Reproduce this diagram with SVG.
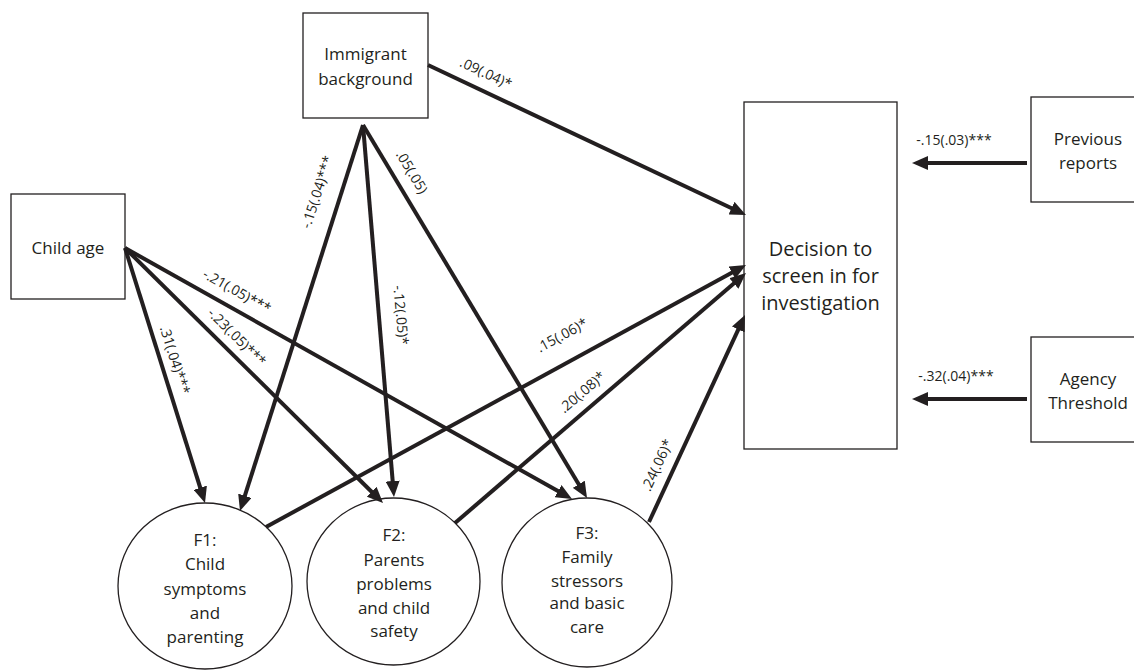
<svg xmlns="http://www.w3.org/2000/svg" width="1134" height="670" viewBox="0 0 1134 670">
<style>
  .box { fill: #ffffff; stroke: #231f20; stroke-width: 1.3; }
  .node-text { font-family: "Open Sans", "Liberation Sans", sans-serif; font-size: 17px; fill: #231f20; text-anchor: middle; }
  .big-text { font-family: "Open Sans", "Liberation Sans", sans-serif; font-size: 20px; fill: #231f20; text-anchor: middle; }
  .edge { stroke: #231f20; stroke-width: 4; fill: none; marker-end: url(#arrow); }
  .lbl { font-family: "Open Sans", "Liberation Sans", sans-serif; font-size: 14px; fill: #231f20; text-anchor: middle; }
</style>
<defs>
  <marker id="arrow" markerUnits="userSpaceOnUse" markerWidth="16" markerHeight="14" viewBox="0 0 16 14" refX="6" refY="7" orient="auto">
    <path d="M0,0 L16,7 L0,14 Z" fill="#231f20"/>
  </marker>
</defs>
<rect width="1134" height="670" fill="#ffffff"/>

<g id="immigrant">
  <rect class="box" x="303" y="13" width="125" height="105"/>
  <text class="node-text" x="365.5" y="60">Immigrant</text>
  <text class="node-text" x="365.5" y="85">background</text>
</g>
<g id="child-age">
  <rect class="box" x="11" y="194" width="114" height="105"/>
  <text class="node-text" x="68" y="254">Child age</text>
</g>
<g id="decision">
  <rect class="box" x="744" y="102" width="153" height="347"/>
  <text class="big-text" x="820.5" y="256">Decision to</text>
  <text class="big-text" x="820.5" y="283">screen in for</text>
  <text class="big-text" x="820.5" y="310">investigation</text>
</g>
<g id="previous-reports">
  <rect class="box" x="1031" y="97" width="115" height="105"/>
  <text class="node-text" x="1088" y="145">Previous</text>
  <text class="node-text" x="1088" y="169">reports</text>
</g>
<g id="agency-threshold">
  <rect class="box" x="1031" y="337" width="115" height="105"/>
  <text class="node-text" x="1088" y="385">Agency</text>
  <text class="node-text" x="1088" y="409">Threshold</text>
</g>
<g id="f1">
  <ellipse class="box" cx="205" cy="586" rx="87" ry="83"/>
  <text class="node-text" x="205" y="546">F1:</text>
  <text class="node-text" x="205" y="570">Child</text>
  <text class="node-text" x="205" y="595">symptoms</text>
  <text class="node-text" x="205" y="619">and</text>
  <text class="node-text" x="205" y="643">parenting</text>
</g>
<g id="f2">
  <ellipse class="box" cx="393.5" cy="581.5" rx="86.5" ry="83.5"/>
  <text class="node-text" x="394" y="541">F2:</text>
  <text class="node-text" x="394" y="566">Parents</text>
  <text class="node-text" x="394" y="590">problems</text>
  <text class="node-text" x="394" y="614">and child</text>
  <text class="node-text" x="394" y="637">safety</text>
</g>
<g id="f3">
  <ellipse class="box" cx="587" cy="582.5" rx="85" ry="84.5"/>
  <text class="node-text" x="587" y="539">F3:</text>
  <text class="node-text" x="587" y="563">Family</text>
  <text class="node-text" x="587" y="587">stressors</text>
  <text class="node-text" x="587" y="609">and basic</text>
  <text class="node-text" x="587" y="633">care</text>
</g>

<g id="connectors">
  <line class="edge" x1="428" y1="65" x2="736.96" y2="210.73"/>
  <line class="edge" x1="363" y1="125" x2="243.04" y2="501.47"/>
  <line class="edge" x1="363" y1="125" x2="393.17" y2="487.04"/>
  <line class="edge" x1="363" y1="125" x2="581.85" y2="489.43"/>
  <line class="edge" x1="125" y1="248" x2="202.01" y2="493.46"/>
  <line class="edge" x1="125" y1="248" x2="375.89" y2="495.97"/>
  <line class="edge" x1="125" y1="248" x2="563.28" y2="494.10"/>
  <line class="edge" x1="266" y1="527" x2="737.22" y2="269.79"/>
  <line class="edge" x1="455" y1="523" x2="738.41" y2="279.52"/>
  <line class="edge" x1="649" y1="522" x2="740.79" y2="324.07"/>
  <line class="edge" x1="1027" y1="163" x2="922" y2="163"/>
  <line class="edge" x1="1027" y1="399" x2="922" y2="399"/>

  <text class="lbl" transform="translate(486,73) rotate(25)" dy="5">.09(.04)*</text>
  <text class="lbl" transform="translate(317,192) rotate(-72)" dy="5">-.15(.04)***</text>
  <text class="lbl" transform="translate(412,172) rotate(59)" dy="5">.05(.05)</text>
  <text class="lbl" transform="translate(401,315) rotate(85)" dy="5">-.12(.05)*</text>
  <text class="lbl" transform="translate(237,291) rotate(29.3)" dy="5">-.21(.05)***</text>
  <text class="lbl" transform="translate(237,337) rotate(44.7)" dy="5">-.23(.05)***</text>
  <text class="lbl" transform="translate(175,360) rotate(72.6)" dy="5">.31(.04)***</text>
  <text class="lbl" transform="translate(562,335) rotate(-28.6)" dy="5">.15(.06)*</text>
  <text class="lbl" transform="translate(582,392) rotate(-40.7)" dy="5">.20(.08)*</text>
  <text class="lbl" transform="translate(657,465) rotate(-65.1)" dy="5">.24(.06)*</text>
  <text class="lbl" x="954" y="145">-.15(.03)***</text>
  <text class="lbl" x="956" y="381">-.32(.04)***</text>
</g>
</svg>
